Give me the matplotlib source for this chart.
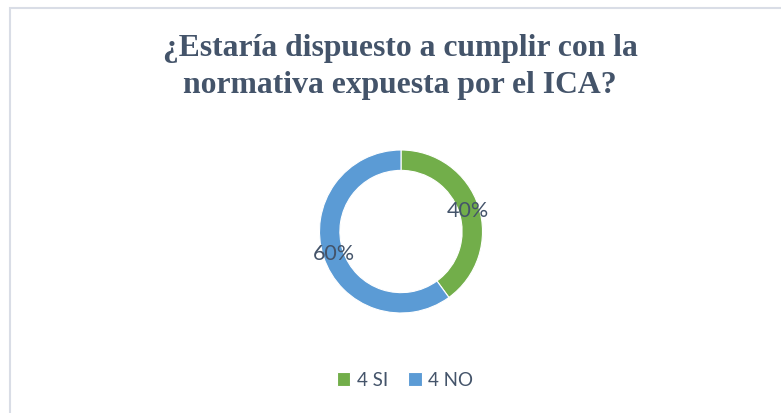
import matplotlib
matplotlib.use("Agg")
import matplotlib.pyplot as plt
from matplotlib.patches import Rectangle

categories = ["4 SI", "4 NO"]
values = [40, 60]
colors = ["#72ae4a", "#5b9bd5"]
title = "¿Estaría dispuesto a cumplir con la\nnormativa expuesta por el ICA?"

W, H = 781, 414
fig = plt.figure(figsize=(W / 100, H / 100), dpi=100)
fig.patch.set_facecolor("white")

# chart border
fig.add_artist(Rectangle((9.5 / W, -0.01), 1.02 - 9.5 / W, 1 - 8.5 / H + 0.01,
                         transform=fig.transFigure, fill=False,
                         edgecolor="#d9dde6", linewidth=1.5))

fig.text(400 / W, 1 - 67 / H, title, ha="center", va="center",
         fontsize=22.8, fontweight="bold", family="Liberation Serif",
         color="#44546a", linespacing=1.38)

cx, cy, r = 401, 232.5, 81.5
ax = fig.add_axes([(cx - r) / W, (H - cy - r) / H, 2 * r / W, 2 * r / H])
wedges, texts, autotexts = ax.pie(
    values, colors=colors, startangle=90, counterclock=False,
    radius=1.0, autopct="%1.0f%%", pctdistance=0.86,
    wedgeprops=dict(width=0.25, edgecolor="white", linewidth=0.8),
    textprops=dict(fontsize=15.5, color="#44546a", family="Lato"))
ax.set_xlim(-1, 1)
ax.set_ylim(-1, 1)
ax.set_aspect("equal")

leg = fig.legend(wedges, categories, loc="center", bbox_to_anchor=(405 / W, 1 - 381 / H),
                 ncol=2, frameon=False, handlelength=0.7, handleheight=0.7,
                 handletextpad=0.35, columnspacing=1.1,
                 prop=dict(family="Lato", size=13.5))
for t in leg.get_texts():
    t.set_color("#44546a")

fig.savefig("out.png", dpi=100, facecolor="white")
